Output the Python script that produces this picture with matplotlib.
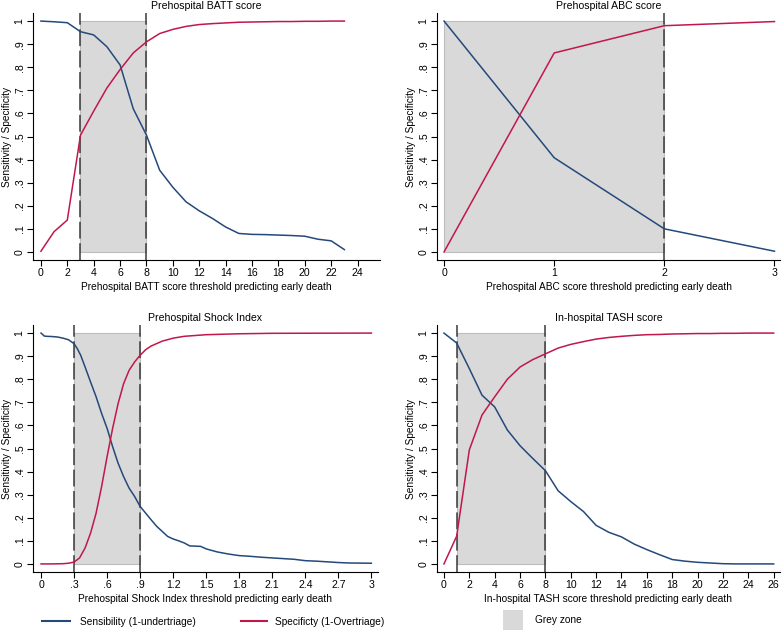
import matplotlib
matplotlib.use("Agg")
import matplotlib.pyplot as plt
from matplotlib.lines import Line2D
from matplotlib.patches import Patch, Rectangle

plt.rcParams.update({
    "font.family": ["Liberation Sans", "DejaVu Sans"],
    "font.size": 7.3,
})

BLUE = "#24497a"
RED = "#c0184a"
GREY = "#d9d9d9"

# ---------- data ----------
batt_x = list(range(0, 24))
batt_sens = [1.0, 0.997, 0.993, 0.954, 0.94, 0.889, 0.81, 0.62, 0.506, 0.354, 0.28, 0.217,
             0.178, 0.145, 0.108, 0.08, 0.076, 0.075, 0.073, 0.071, 0.068, 0.055, 0.048, 0.01]
batt_spec = [0.003, 0.088, 0.138, 0.506, 0.61, 0.71, 0.79, 0.862, 0.91, 0.946, 0.964, 0.977,
             0.985, 0.989, 0.992, 0.995, 0.996, 0.997, 0.998, 0.998, 0.999, 0.999, 1.0, 1.0]

abc_x = [0, 1, 2, 3]
abc_sens = [1.0, 0.408, 0.1, 0.003]
abc_spec = [0.0, 0.862, 0.98, 0.998]

si_sens_x = [0, 0.03, 0.05, 0.1, 0.15, 0.2, 0.25, 0.3, 0.33, 0.36, 0.4, 0.45, 0.5, 0.55, 0.6,
             0.65, 0.7, 0.75, 0.8, 0.85, 0.9, 0.95, 1.0, 1.05, 1.1, 1.15, 1.2, 1.25, 1.3,
             1.35, 1.45, 1.5, 1.6, 1.7, 1.8, 1.9, 2.0, 2.1, 2.2, 2.3, 2.4, 2.5, 2.6, 2.7,
             2.8, 3.0]
si_sens = [1.0, 0.987, 0.986, 0.985, 0.983, 0.978, 0.971, 0.954, 0.932, 0.904, 0.853, 0.788,
           0.724, 0.652, 0.587, 0.508, 0.436, 0.378, 0.328, 0.292, 0.249, 0.22, 0.191, 0.163,
           0.141, 0.119, 0.108, 0.1, 0.091, 0.078, 0.076, 0.065, 0.052, 0.043, 0.036, 0.033,
           0.029, 0.026, 0.023, 0.02, 0.014, 0.012, 0.009, 0.006, 0.004, 0.003]
si_spec_x = [0, 0.1, 0.2, 0.25, 0.3, 0.35, 0.4, 0.45, 0.5, 0.55, 0.6, 0.65, 0.7, 0.75, 0.8,
             0.85, 0.9, 0.95, 1.0, 1.1, 1.2, 1.3, 1.5, 1.8, 2.1, 3.0]
si_spec = [0.0, 0.0, 0.001, 0.003, 0.008, 0.026, 0.069, 0.134, 0.22, 0.335, 0.465, 0.587,
           0.695, 0.781, 0.839, 0.875, 0.904, 0.928, 0.944, 0.965, 0.978, 0.986, 0.993,
           0.997, 0.999, 1.0]

tash_x = list(range(0, 27))
tash_sens = [1.0, 0.957, 0.846, 0.731, 0.68, 0.58, 0.512, 0.457, 0.404, 0.317, 0.27, 0.227,
             0.167, 0.137, 0.117, 0.086, 0.062, 0.04, 0.019, 0.012, 0.007, 0.004, 0.001,
             0.0, 0.0, 0.0, 0.0]
tash_spec = [0.0, 0.12, 0.494, 0.645, 0.724, 0.8, 0.853, 0.885, 0.91, 0.935, 0.951, 0.963,
             0.974, 0.981, 0.986, 0.99, 0.993, 0.994, 0.996, 0.997, 0.998, 0.998, 0.999,
             0.999, 1.0, 1.0, 1.0]

y_ticks = [0, 0.1, 0.2, 0.3, 0.4, 0.5, 0.6, 0.7, 0.8, 0.9, 1.0]
y_labels = ["0", ".1", ".2", ".3", ".4", ".5", ".6", ".7", ".8", ".9", "1"]

W, H = 784, 634
fig = plt.figure(figsize=(W / 100, H / 100), dpi=100)


def make_axes(x0, x1, ytop, ybot):
    return fig.add_axes([x0 / W, 1 - ybot / H, (x1 - x0) / W, (ybot - ytop) / H])


def draw_panel(ax, sx, sens, px, spec, zone, vlines, xlim, xticks, xticklabels, title, xlabel):
    z0, z1 = zone
    ax.add_patch(Rectangle((z0, 0), z1 - z0, 1, facecolor=GREY, edgecolor="#bdbdbd",
                           linewidth=0.8, zorder=1))
    for v in vlines:
        ax.axvline(v, color="#3a3a3a", linewidth=1.1, dashes=(11, 3), zorder=2)
    ax.plot(sx, sens, color=BLUE, linewidth=1.1, zorder=3)
    ax.plot(px, spec, color=RED, linewidth=1.1, zorder=3)
    ax.set_xlim(*xlim)
    ax.set_ylim(-0.035, 1.035)
    ax.set_xticks(xticks)
    ax.set_xticklabels(xticklabels)
    ax.set_yticks(y_ticks)
    ax.set_yticklabels(y_labels, rotation=90, va="center")
    ax.spines["top"].set_visible(False)
    ax.spines["right"].set_visible(False)
    ax.tick_params(direction="out", length=4, width=0.8, pad=2, labelsize=7.6)
    ax.set_title(title, fontsize=7.6, pad=3)
    ax.set_xlabel(xlabel, labelpad=3)
    ax.set_ylabel("Sensitivity / Specificity", labelpad=2)


ax1 = make_axes(33, 380, 13, 260)
draw_panel(ax1, batt_x, batt_sens, batt_x, batt_spec, (3, 8), [3, 8], (-0.6, 25.7),
           list(range(0, 25, 2)), [str(v) for v in range(0, 25, 2)],
           "Prehospital BATT score", "Prehospital BATT score threshold predicting early death")

ax2 = make_axes(437, 780, 13, 260)
draw_panel(ax2, abc_x, abc_sens, abc_x, abc_spec, (0, 2), [2], (-0.064, 3.05),
           abc_x, [str(v) for v in abc_x],
           "Prehospital ABC score", "Prehospital ABC score threshold predicting early death")

si_ticks = [0, 0.3, 0.6, 0.9, 1.2, 1.5, 1.8, 2.1, 2.4, 2.7, 3.0]
si_labels = ["0", ".3", ".6", ".9", "1.2", "1.5", "1.8", "2.1", "2.4", "2.7", "3"]
ax3 = make_axes(33, 378, 325, 572)
draw_panel(ax3, si_sens_x, si_sens, si_spec_x, si_spec, (0.3, 0.9), [0.3, 0.9], (-0.073, 3.06),
           si_ticks, si_labels,
           "Prehospital Shock Index", "Prehospital Shock Index threshold predicting early death")

ax4 = make_axes(437, 780, 325, 572)
draw_panel(ax4, tash_x, tash_sens, tash_x, tash_spec, (1, 8), [1, 8], (-0.55, 26.5),
           list(range(0, 27, 2)), [str(v) for v in range(0, 27, 2)],
           "In-hospital TASH score", "In-hospital TASH score threshold predicting early death")

# ---------- legend ----------
leg_kw = dict(frameon=False, borderaxespad=0, borderpad=0, fontsize=7.3, loc="center left")
fig.legend(handles=[Line2D([], [], color=BLUE, linewidth=1.5)],
           labels=["Sensibility (1-undertriage)"], bbox_to_anchor=(42 / W, 1 - 622 / H),
           handlelength=2.8, handletextpad=0.9, **leg_kw)
fig.legend(handles=[Line2D([], [], color=RED, linewidth=1.5)],
           labels=["Specificty (1-Overtriage)"], bbox_to_anchor=(241 / W, 1 - 622 / H),
           handlelength=2.6, handletextpad=0.8, **leg_kw)
fig.legend(handles=[Patch(facecolor=GREY, edgecolor="none")],
           labels=["Grey zone"], bbox_to_anchor=(503 / W, 1 - 620 / H),
           handlelength=2.0, handleheight=2.6, handletextpad=1.2, **leg_kw)

fig.savefig("out.png", dpi=100)
